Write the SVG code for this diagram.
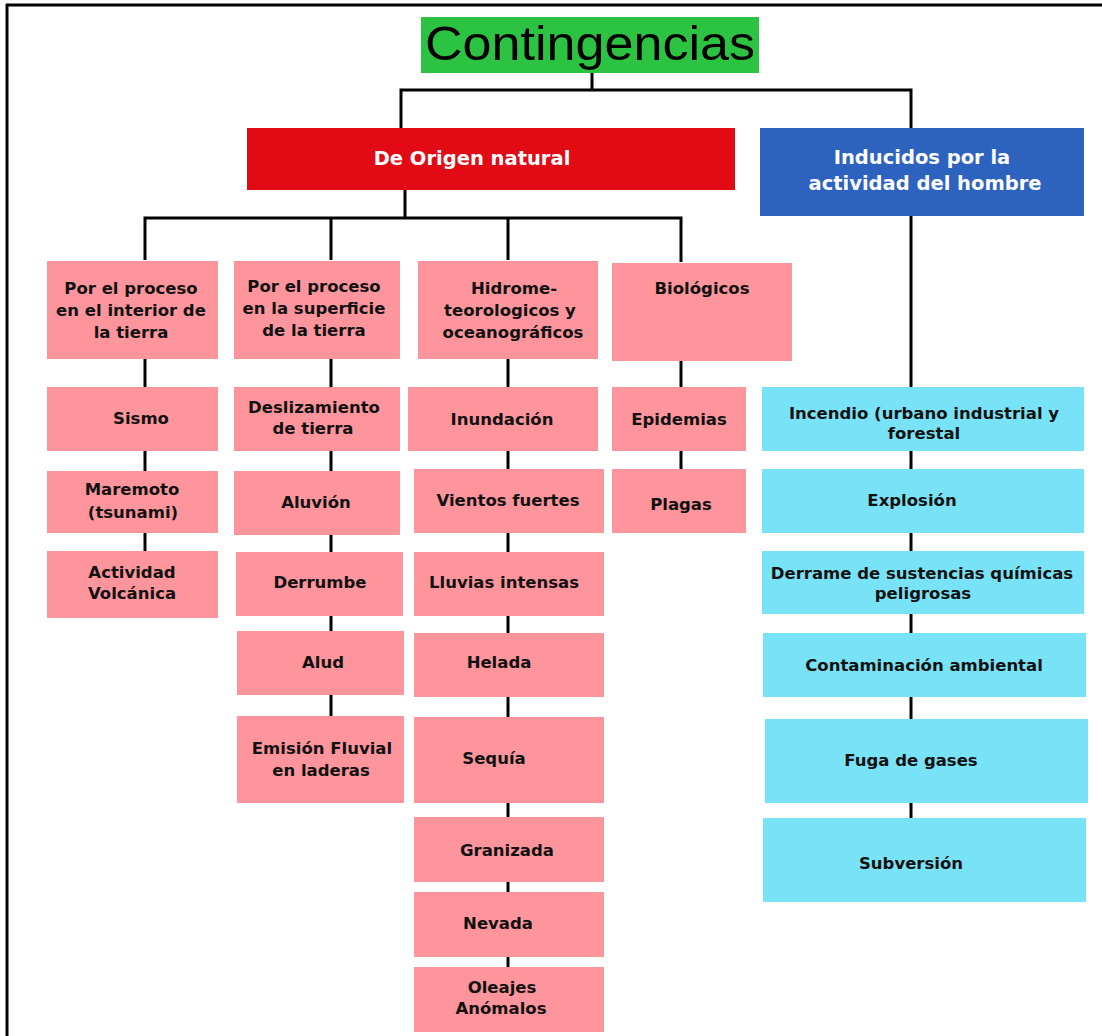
<svg xmlns="http://www.w3.org/2000/svg" width="1102" height="1036" viewBox="0 0 1102 1036">
<style>
.ln{stroke:#000;stroke-width:3;fill:none}
.pk{fill:#fe959c}
.cy{fill:#78e2f6}
.t{font-family:"DejaVu Sans",Verdana,sans-serif;font-weight:bold;font-size:16.5px;fill:#111;text-anchor:middle}
.h{font-family:"DejaVu Sans",Verdana,sans-serif;font-weight:bold;font-size:19.5px;fill:#fff;text-anchor:middle}
</style>
<rect x="0" y="0" width="1102" height="1036" fill="#fff"/>
<g id="frame">
<line x1="6" y1="5" x2="1102" y2="5" stroke="#000" stroke-width="3"/>
<line x1="7" y1="4" x2="7" y2="1036" stroke="#000" stroke-width="3"/>
</g>
<g id="connectors" class="ln">
<path d="M592,73V90M401,128V90H911V128"/>
<path d="M405,190V218M145,260V218H681V262M331,218V260M508,218V260"/>
<path d="M911,216V387"/>
<path d="M145,359V387M145,451V471M145,533V551"/>
<path d="M331,359V387M331,451V471M331,535V552M331,616V631M331,695V716"/>
<path d="M508,359V387M508,451V469M508,533V552M508,616V633M508,697V717M508,803V817M508,882V892M508,957V967"/>
<path d="M681,361V387M681,451V469"/>
<path d="M911,451V469M911,533V551M911,614V633M911,697V719M911,803V818"/>
</g>
<g id="n-contingencias">
<rect x="421" y="17" width="338" height="56" fill="#2dc342"/>
<text x="590" y="60" font-family="Liberation Sans,Arial,sans-serif" font-size="48" fill="#000" text-anchor="middle" textLength="330" lengthAdjust="spacingAndGlyphs">Contingencias</text>
</g>
<g id="n-natural">
<rect x="247" y="128" width="488" height="62" fill="#e20a14"/>
<text class="h" x="472" y="165">De Origen natural</text>
</g>
<g id="n-inducidos">
<rect x="760" y="128" width="324" height="88" fill="#2d62bf"/>
<text class="h" x="922" y="164">Inducidos por la</text>
<text class="h" x="925" y="190">actividad del hombre</text>
</g>
<g id="n-interior">
<rect class="pk" x="47" y="261" width="171" height="98"/>
<text class="t" x="131" y="294">Por el proceso</text>
<text class="t" x="131" y="316">en el interior de</text>
<text class="t" x="131" y="338">la tierra</text>
</g>
<g id="n-superficie">
<rect class="pk" x="234" y="261" width="166" height="98"/>
<text class="t" x="314" y="292">Por el proceso</text>
<text class="t" x="314" y="314">en la superficie</text>
<text class="t" x="314" y="336">de la tierra</text>
</g>
<g id="n-hidro">
<rect class="pk" x="418" y="261" width="180" height="98"/>
<text class="t" x="514" y="294">Hidrome-</text>
<text class="t" x="510" y="316">teorologicos y</text>
<text class="t" x="513" y="338">oceanográficos</text>
</g>
<g id="n-biologicos">
<rect class="pk" x="612" y="263" width="180" height="98"/>
<text class="t" x="702" y="294">Biológicos</text>
</g>
<g id="n-sismo"><rect class="pk" x="47" y="387" width="171" height="64"/><text class="t" x="141" y="424">Sismo</text></g>
<g id="n-maremoto"><rect class="pk" x="47" y="471" width="171" height="62"/><text class="t" x="132" y="495">Maremoto</text><text class="t" x="133" y="518">(tsunami)</text></g>
<g id="n-volcanica"><rect class="pk" x="47" y="551" width="171" height="67"/><text class="t" x="132" y="578">Actividad</text><text class="t" x="132" y="599">Volcánica</text></g>
<g id="n-deslizamiento"><rect class="pk" x="234" y="387" width="166" height="64"/><text class="t" x="314" y="413">Deslizamiento</text><text class="t" x="313" y="434">de tierra</text></g>
<g id="n-aluvion"><rect class="pk" x="234" y="471" width="166" height="64"/><text class="t" x="316" y="508">Aluvión</text></g>
<g id="n-derrumbe"><rect class="pk" x="236" y="552" width="167" height="64"/><text class="t" x="320" y="588">Derrumbe</text></g>
<g id="n-alud"><rect class="pk" x="237" y="631" width="167" height="64"/><text class="t" x="323" y="668">Alud</text></g>
<g id="n-emision"><rect class="pk" x="237" y="716" width="167" height="87"/><text class="t" x="322" y="754">Emisión Fluvial</text><text class="t" x="321" y="776">en laderas</text></g>
<g id="n-inundacion"><rect class="pk" x="408" y="387" width="190" height="64"/><text class="t" x="502" y="425">Inundación</text></g>
<g id="n-vientos"><rect class="pk" x="414" y="469" width="190" height="64"/><text class="t" x="508" y="506">Vientos fuertes</text></g>
<g id="n-lluvias"><rect class="pk" x="414" y="552" width="190" height="64"/><text class="t" x="504" y="588">Lluvias intensas</text></g>
<g id="n-helada"><rect class="pk" x="414" y="633" width="190" height="64"/><text class="t" x="499" y="668">Helada</text></g>
<g id="n-sequia"><rect class="pk" x="414" y="717" width="190" height="86"/><text class="t" x="494" y="764">Sequía</text></g>
<g id="n-granizada"><rect class="pk" x="414" y="817" width="190" height="65"/><text class="t" x="507" y="856">Granizada</text></g>
<g id="n-nevada"><rect class="pk" x="414" y="892" width="190" height="65"/><text class="t" x="498" y="929">Nevada</text></g>
<g id="n-oleajes"><rect class="pk" x="414" y="967" width="190" height="65"/><text class="t" x="502" y="993">Oleajes</text><text class="t" x="501" y="1014">Anómalos</text></g>
<g id="n-epidemias"><rect class="pk" x="612" y="387" width="134" height="64"/><text class="t" x="679" y="425">Epidemias</text></g>
<g id="n-plagas"><rect class="pk" x="612" y="469" width="134" height="64"/><text class="t" x="681" y="510">Plagas</text></g>
<g id="n-incendio"><rect class="cy" x="762" y="387" width="322" height="64"/><text class="t" x="924" y="419">Incendio (urbano industrial y</text><text class="t" x="924" y="439">forestal</text></g>
<g id="n-explosion"><rect class="cy" x="762" y="469" width="322" height="64"/><text class="t" x="912" y="506">Explosión</text></g>
<g id="n-derrame"><rect class="cy" x="762" y="551" width="322" height="63"/><text class="t" x="922" y="579">Derrame de sustencias químicas</text><text class="t" x="923" y="599">peligrosas</text></g>
<g id="n-contaminacion"><rect class="cy" x="763" y="633" width="323" height="64"/><text class="t" x="924" y="671">Contaminación ambiental</text></g>
<g id="n-fuga"><rect class="cy" x="765" y="719" width="323" height="84"/><text class="t" x="911" y="766">Fuga de gases</text></g>
<g id="n-subversion"><rect class="cy" x="763" y="818" width="323" height="84"/><text class="t" x="911" y="869">Subversión</text></g>
</svg>
